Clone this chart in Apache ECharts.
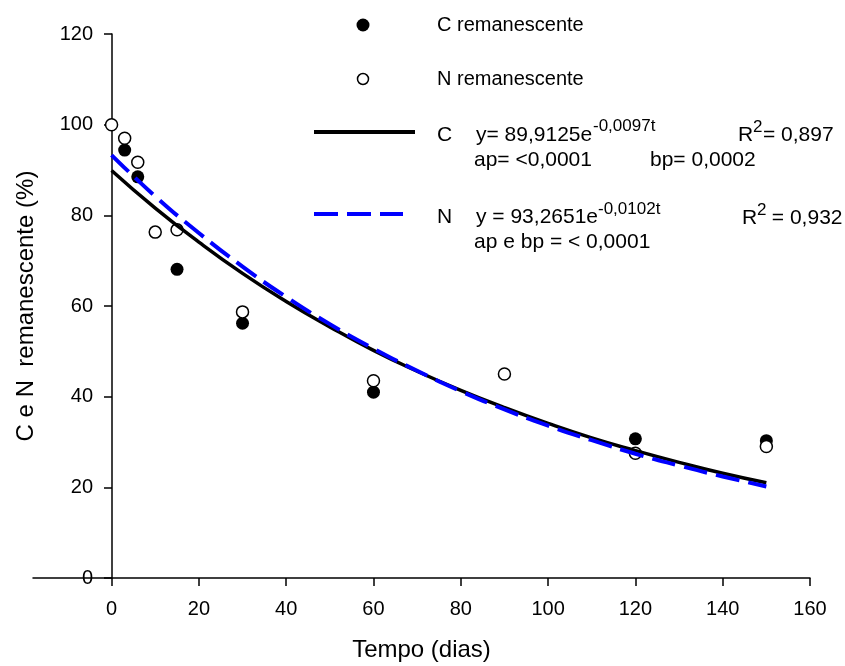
<!DOCTYPE html>
<html>
<head>
<meta charset="utf-8">
<script src="https://cdn.jsdelivr.net/npm/echarts@6/dist/echarts.min.js"></script>
<style>
	html, body { margin: 0; padding: 0; background: #fff; }
	#chart { width: 845px; height: 666px; }
</style>
</head>
<body>
<div id="chart"></div>
<script>
const tempoC = [3, 6, 15, 30, 60, 120, 150]
const carbono = [94.4, 88.5, 68.1, 56.2, 41.0, 30.7, 30.3]
const tempoN = [0, 3, 6, 10, 15, 30, 60, 90, 120, 150]
const nitrogenio = [100, 97.0, 91.7, 76.3, 76.8, 58.7, 43.5, 45.0, 27.5, 29.0]

// curvas ajustadas
const tempoAjuste = [0, 10, 20, 30, 40, 50, 60, 70, 80, 90, 100, 110, 120, 130, 140, 150]
const ajusteC = [89.9, 81.6, 74.1, 67.2, 61.0, 55.4, 50.2, 45.6, 41.4, 37.6, 34.1, 30.9, 28.1, 25.5, 23.1, 21.0]
const ajusteN = [93.3, 84.2, 76.1, 68.7, 62.0, 56.0, 50.6, 45.7, 41.2, 37.2, 33.6, 30.4, 27.4, 24.8, 22.4, 20.2]

const xTicks = [0, 20, 40, 60, 80, 100, 120, 140, 160]

const FONT = 'Liberation Sans, Arial, sans-serif'

const pares = (xs, ys) => xs.map((x, i) => [x, ys[i]])

const txt = (text, x, y, size) => ({
	type: 'text',
	x: x,
	y: y,
	style: {
		text: text,
		fontSize: size || 21,
		fontFamily: FONT,
		fill: '#000',
		verticalAlign: 'middle',
	},
})

const chart = echarts.init(document.getElementById('chart'))

const option = {
	animation: false,
	backgroundColor: '#fff',
	grid: {
		left: 33,
		right: 35,
		top: 34,
		bottom: 88,
		containLabel: false,
		outerBoundsMode: 'none',
	},
	xAxis: {
		type: 'value',
		min: -18,
		max: 160,
		name: 'Tempo (dias)',
		nameLocation: 'middle',
		nameGap: 60,
		nameTextStyle: { fontSize: 24, fontFamily: FONT, color: '#000' },
		splitLine: { show: false },
		axisLine: { onZero: false, lineStyle: { color: '#000', width: 1.5 } },
		axisTick: { customValues: xTicks, length: 8, lineStyle: { color: '#000', width: 1.5 } },
		axisLabel: { customValues: xTicks, fontSize: 20, fontFamily: FONT, color: '#000', margin: 21 },
	},
	yAxis: {
		type: 'value',
		min: 0,
		max: 120,
		interval: 20,
		// eixo y desenhado em t = 0
		offset: -79,
		name: 'C e N  remanescente (%)',
		nameLocation: 'middle',
		nameGap: 74,
		nameTextStyle: { fontSize: 24, fontFamily: FONT, color: '#000' },
		splitLine: { show: false },
		axisLine: { onZero: false, lineStyle: { color: '#000', width: 1.5 } },
		axisTick: { length: 8, lineStyle: { color: '#000', width: 1.5 } },
		axisLabel: { fontSize: 20, fontFamily: FONT, color: '#000', margin: 19 },
	},
	series: [
		{
			name: 'C remanescente',
			type: 'scatter',
			symbol: 'circle',
			symbolSize: 13,
			itemStyle: { color: '#000', opacity: 1 },
			data: pares(tempoC, carbono),
		},
		{
			name: 'N remanescente',
			type: 'scatter',
			symbol: 'circle',
			symbolSize: 12,
			itemStyle: { color: '#fff', borderColor: '#000', borderWidth: 1.5, opacity: 1 },
			data: pares(tempoN, nitrogenio),
		},
		{
			name: 'C',
			type: 'line',
			smooth: true,
			symbol: 'none',
			lineStyle: { color: '#000', width: 3.5 },
			data: pares(tempoAjuste, ajusteC),
		},
		{
			name: 'N',
			type: 'line',
			smooth: true,
			symbol: 'none',
			lineStyle: { color: '#0000ff', width: 4, type: [24, 9] },
			data: pares(tempoAjuste, ajusteN),
		},
	],
	graphic: [
		// legenda
		{ type: 'circle', shape: { cx: 363, cy: 25, r: 6.5 }, style: { fill: '#000' } },
		txt('C remanescente', 437, 25, 20),
		{ type: 'circle', shape: { cx: 363, cy: 79, r: 5.5 }, style: { fill: '#fff', stroke: '#000', lineWidth: 1.5 } },
		txt('N remanescente', 437, 79, 20),

		{ type: 'line', shape: { x1: 314, y1: 132, x2: 415, y2: 132 }, style: { stroke: '#000', lineWidth: 4 } },
		txt('C', 437, 135),
		txt('y= 89,9125e', 476, 135),
		txt('-0,0097t', 593, 126, 17),
		txt('R', 738, 135),
		txt('2', 753, 127, 17),
		txt('= 0,897', 763, 135),
		txt('ap= <0,0001', 474, 160),
		txt('bp= 0,0002', 650, 160),

		{ type: 'line', shape: { x1: 314, y1: 214, x2: 403, y2: 214 }, style: { stroke: '#0000ff', lineWidth: 4, lineDash: [24, 9] } },
		txt('N', 437, 217),
		txt('y = 93,2651e', 476, 217),
		txt('-0,0102t', 598, 209, 17),
		txt('R', 742, 218),
		txt('2', 757, 210, 17),
		txt(' = 0,932', 766, 218),
		txt('ap e bp = < 0,0001', 474, 242),
	],
}

chart.setOption(option)
</script>
</body>
</html>
